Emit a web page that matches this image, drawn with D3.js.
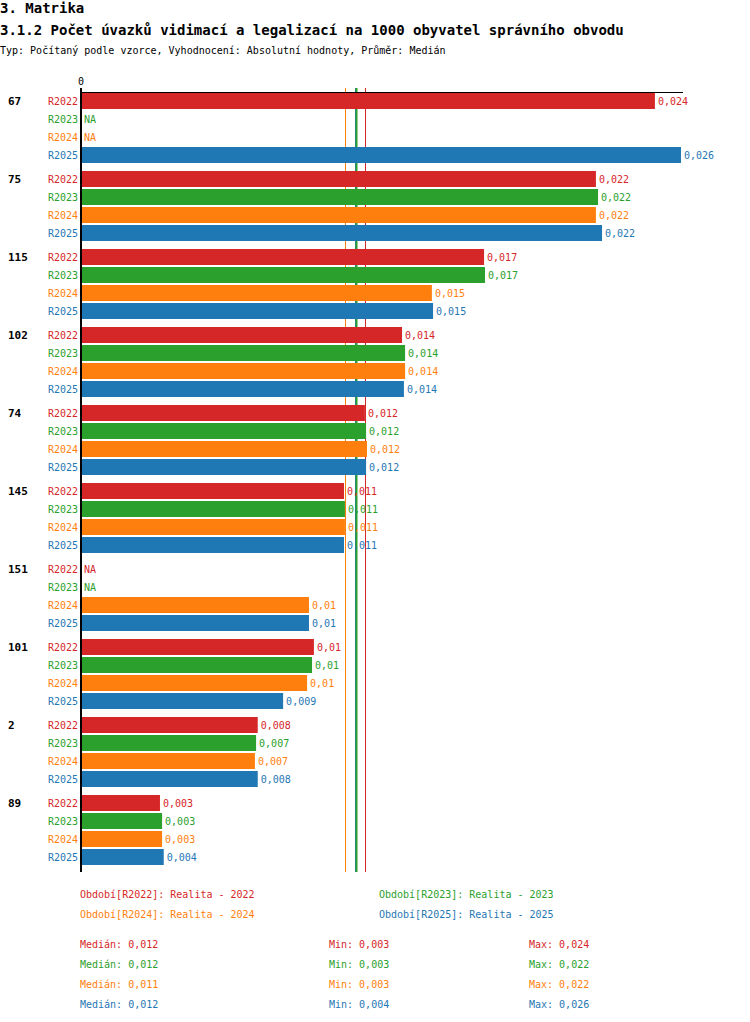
<!DOCTYPE html><html><head><meta charset="utf-8">
<script src="https://cdn.jsdelivr.net/npm/d3@7"></script>
<style>body{margin:0;background:#fff}text{font-family:"DejaVu Sans Mono",monospace}</style></head><body>
<script>
const categories=["67","75","115","102","74","145","151","101","2","89"];
const series=["R2022","R2023","R2024","R2025"];
const colors=["#d62728","#2ca02c","#ff7f0e","#1f77b4"];
const legendNames=["Realita - 2022","Realita - 2023","Realita - 2024","Realita - 2025"];
const v2022=[0.02442,0.02191,0.01715,0.01366,0.01208,0.01119,null,0.00991,0.00752,0.00336];
const v2023=[null,0.02200,0.01719,0.01379,0.01213,0.01123,null,0.00983,0.00745,0.00345];
const v2024=[null,0.02191,0.01493,0.01379,0.01217,0.01123,0.00970,0.00962,0.00740,0.00345];
const v2025=[0.02553,0.02217,0.01498,0.01374,0.01213,0.01119,0.00970,0.00860,0.00752,0.00352];
const vals=[v2022,v2023,v2024,v2025];
const fmt=v=>String(+v.toFixed(3)).replace(".",",");
const W=750,H=1022;
const svg=d3.select("body").append("svg").attr("width",W).attr("height",H);
svg.append("text").attr("x",0).attr("y",13).attr("font-size",14).attr("font-weight","bold").text("3. Matrika");
svg.append("text").attr("x",0).attr("y",35).attr("font-size",14).attr("font-weight","bold").text("3.1.2 Počet úvazků vidimací a legalizací na 1000 obyvatel správního obvodu");
svg.append("text").attr("x",0).attr("y",54).attr("font-size",10).text("Typ: Počítaný podle vzorce, Vyhodnocení: Absolutní hodnoty, Průměr: Medián");
const all=vals.flat().filter(v=>v!=null);
const x=d3.scaleLinear().domain([0,d3.max(all)]).range([81,681]);
const y0=93,gStep=78,rStep=18,bh=16;
const yTop=88,yBot=872;
// median lines (behind bars)
const medians=vals.map(a=>d3.median(a.filter(v=>v!=null)));
const order=[2,3,1,0];
order.forEach(i=>{svg.append("line").attr("x1",Math.round(x(medians[i]))+0.5).attr("x2",Math.round(x(medians[i]))+0.5).attr("y1",yTop).attr("y2",yBot).attr("stroke",colors[i]).attr("stroke-width",i==1?2:1);});
categories.forEach((c,ci)=>{
  const gy=y0+ci*gStep;
  svg.append("text").attr("x",8).attr("y",gy+12).attr("font-size",11).attr("font-weight","bold").text(c);
  series.forEach((s,si)=>{
    const ry=gy+si*rStep, v=vals[si][ci];
    svg.append("text").attr("x",78).attr("y",ry+12).attr("text-anchor","end").attr("font-size",10).attr("fill",colors[si]).text(s);
    if(v==null){svg.append("text").attr("x",84).attr("y",ry+12).attr("font-size",10).attr("fill",colors[si]).text("NA");return;}
    svg.append("rect").attr("x",x(0)).attr("y",ry).attr("width",x(v)-x(0)).attr("height",bh).attr("fill",colors[si]);
    svg.append("text").attr("x",x(v)+3).attr("y",ry+12).attr("font-size",10).attr("fill",colors[si]).text(fmt(v));
  });
});
svg.append("line").attr("x1",81).attr("x2",81).attr("y1",yTop).attr("y2",yBot).attr("stroke","#000").attr("stroke-width",2);
svg.append("line").attr("x1",80).attr("x2",683).attr("y1",92.5).attr("y2",92.5).attr("stroke","#000").attr("stroke-width",1);
svg.append("text").attr("x",81).attr("y",85).attr("text-anchor","middle").attr("font-size",10).text("0");
// legend
series.forEach((s,i)=>{
  svg.append("text").attr("x",i%2?379:80).attr("y",898+Math.floor(i/2)*20).attr("font-size",10).attr("fill",colors[i]).text(`Období[${s}]: ${legendNames[i]}`);
});
series.forEach((s,i)=>{
  const a=vals[i].filter(v=>v!=null), yy=948+i*20;
  svg.append("text").attr("x",80).attr("y",yy).attr("font-size",10).attr("fill",colors[i]).text("Medián: "+fmt(d3.median(a)));
  svg.append("text").attr("x",329).attr("y",yy).attr("font-size",10).attr("fill",colors[i]).text("Min: "+fmt(d3.min(a)));
  svg.append("text").attr("x",529).attr("y",yy).attr("font-size",10).attr("fill",colors[i]).text("Max: "+fmt(d3.max(a)));
});
</script></body></html>
